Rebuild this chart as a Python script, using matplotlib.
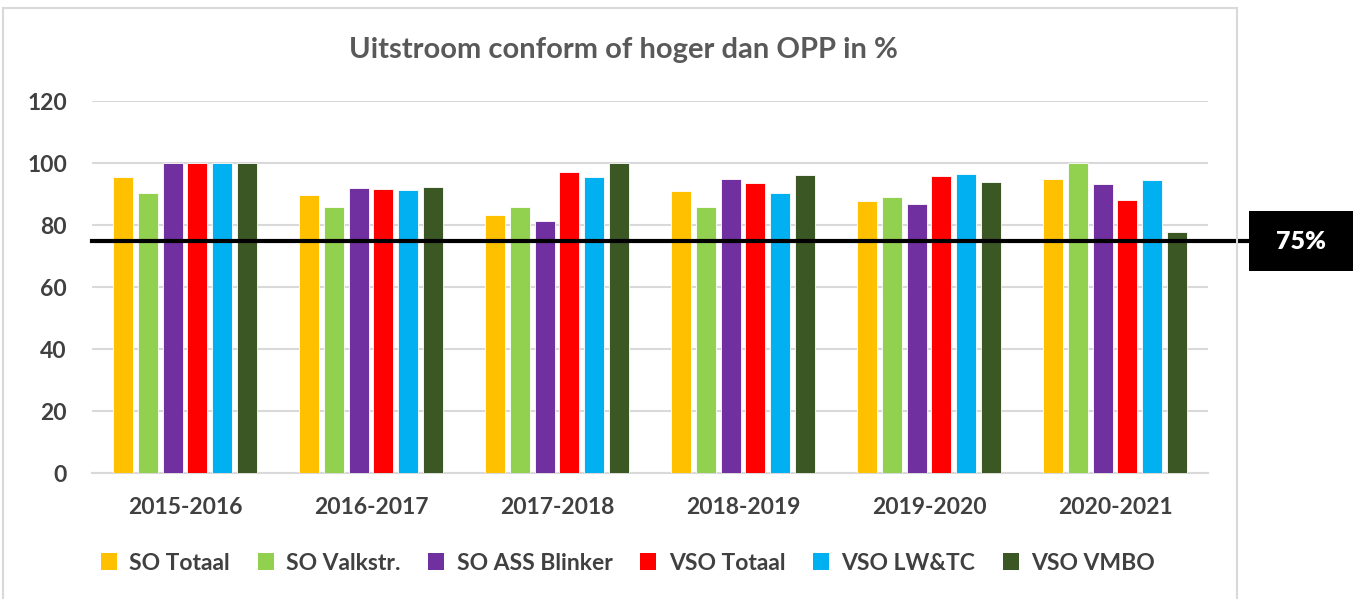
import matplotlib
matplotlib.use("Agg")
import matplotlib.pyplot as plt
from matplotlib.patches import Rectangle, Patch
import numpy as np

years = ["2015-2016", "2016-2017", "2017-2018", "2018-2019", "2019-2020", "2020-2021"]
series_names = ["SO Totaal", "SO Valkstr.", "SO ASS Blinker", "VSO Totaal", "VSO LW&TC", "VSO VMBO"]
so_totaal = [95.6, 89.8, 83.2, 90.9, 87.7, 94.9]
so_valkstr = [90.4, 85.7, 85.7, 85.7, 88.9, 100.0]
so_ass_blinker = [100.0, 91.9, 81.3, 94.8, 86.8, 93.3]
vso_totaal = [100.0, 91.7, 97.1, 93.5, 95.9, 88.1]
vso_lwtc = [100.0, 91.3, 95.6, 90.4, 96.5, 94.4]
vso_vmbo = [100.0, 92.3, 100.0, 96.1, 93.8, 77.7]
threshold = 75
threshold_label = "75%"
title = "Uitstroom conform of hoger dan OPP in %"

series = [so_totaal, so_valkstr, so_ass_blinker, vso_totaal, vso_lwtc, vso_vmbo]
colors = ["#FFC000", "#92D050", "#7030A0", "#FF0000", "#00B0F0", "#3A5724"]

plt.rcParams['font.family'] = ['Lato', 'DejaVu Sans']

W, H = 1359, 599
fig = plt.figure(figsize=(W / 100, H / 100), dpi=100)
fig.patch.set_facecolor("white")

# chart border
fig.add_artist(Rectangle((3 / W, -0.01), (1237 - 3) / W, (H - 8) / H + 0.01,
                         transform=fig.transFigure, fill=False,
                         edgecolor="#D9D9D9", linewidth=1.5))

ax_left, ax_right = 92, 1208
ax = fig.add_axes([ax_left / W, (H - 473) / H, (ax_right - ax_left) / W, (473 - 101) / H])
x = np.arange(len(years))
step = 0.133
bw = 0.108
for i, (vals, c, name) in enumerate(zip(series, colors, series_names)):
    ax.bar(x + (i - 2.5) * step, vals, width=bw, color=c, edgecolor="white",
           linewidth=0.6, label=name, zorder=3)

ax.set_xlim(-0.5, len(years) - 0.5)
ax.set_ylim(0, 120)
ax.set_yticks(range(0, 121, 20))
ax.grid(axis="y", color="#D9D9D9", linewidth=1.5, zorder=0)
ax.set_axisbelow(True)
for s in ["top", "right", "left"]:
    ax.spines[s].set_visible(False)
ax.spines["bottom"].set_color("#D9D9D9")
ax.spines["bottom"].set_linewidth(1.5)
ax.tick_params(axis="both", length=0, labelsize=16.5, colors="#404040")
ax.tick_params(axis="y", pad=18)
ax.tick_params(axis="x", pad=17)
ax.set_xticks(x)
ax.set_xticklabels(years, fontweight="bold")
for lbl in ax.get_yticklabels():
    lbl.set_fontweight("bold")

# threshold line
unit = (ax_right - ax_left) / 6
ax.plot([-0.5, -0.5 + (1248 - ax_left) / unit], [threshold, threshold],
        color="black", linewidth=3, clip_on=False, zorder=5)

fig.add_artist(Rectangle((1249 / W, 1 - 271 / H), (1353 - 1249) / W, 60 / H,
                         transform=fig.transFigure, facecolor="black", edgecolor="none"))
fig.text(0.5 * (1249 + 1353) / W, 1 - 242 / H, threshold_label, ha="center", va="center",
         color="white", fontsize=18, fontweight="heavy")

fig.text(623 / W, 1 - 50 / H, title, ha="center", va="center",
         fontsize=21, fontweight="bold", color="#595959")

handles = [Patch(facecolor=c, edgecolor="none") for c in colors]
leg = fig.legend(handles, series_names, loc="center", bbox_to_anchor=(628 / W, 1 - 563 / H),
                 ncol=6, frameon=False, handlelength=0.7, handleheight=0.7,
                 handletextpad=0.55, columnspacing=1.2,
                 prop={"weight": "bold", "size": 16.5})
for t in leg.get_texts():
    t.set_color("#404040")

fig.savefig("out.png", dpi=100, facecolor="white")
